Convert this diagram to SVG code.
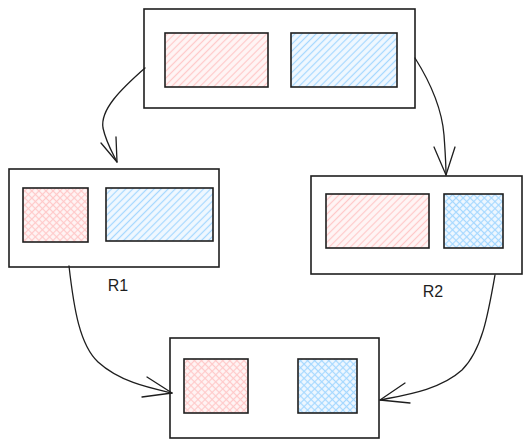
<svg xmlns="http://www.w3.org/2000/svg" width="532" height="448" viewBox="0 0 532 448">
<style>
.frame{fill:none;stroke:#1e1e1e;stroke-width:1.6}
.inner{stroke:#1e1e1e;stroke-width:1.6}
.conn{fill:none;stroke:#1e1e1e;stroke-width:1.3;stroke-linecap:round;stroke-linejoin:round}
.lbl{font-family:"Liberation Sans",Arial,sans-serif;font-size:16px;fill:#1e1e1e;text-anchor:middle}
</style>
<defs>
<pattern id="hPink" patternUnits="userSpaceOnUse" width="5" height="5" patternTransform="rotate(45)">
<rect width="5" height="5" fill="#fff5f5"/>
<line x1="2.5" y1="0" x2="2.5" y2="5" stroke="#ffc9c9" stroke-width="1.2"/>
</pattern>
<pattern id="hBlue" patternUnits="userSpaceOnUse" width="5" height="5" patternTransform="rotate(45)">
<rect width="5" height="5" fill="#f0f8ff"/>
<line x1="2.5" y1="0" x2="2.5" y2="5" stroke="#a5d8ff" stroke-width="1.2"/>
</pattern>
<pattern id="xPink" patternUnits="userSpaceOnUse" width="5" height="5" patternTransform="rotate(45)">
<rect width="5" height="5" fill="#fff5f5"/>
<line x1="2.5" y1="0" x2="2.5" y2="5" stroke="#ffc9c9" stroke-width="1.2"/>
<line x1="0" y1="2.5" x2="5" y2="2.5" stroke="#ffc9c9" stroke-width="1.2"/>
</pattern>
<pattern id="xBlue" patternUnits="userSpaceOnUse" width="5" height="5" patternTransform="rotate(45)">
<rect width="5" height="5" fill="#f0f8ff"/>
<line x1="2.5" y1="0" x2="2.5" y2="5" stroke="#a5d8ff" stroke-width="1.2"/>
<line x1="0" y1="2.5" x2="5" y2="2.5" stroke="#a5d8ff" stroke-width="1.2"/>
</pattern>
</defs>
<rect width="532" height="448" fill="#ffffff"/>

<g id="connectors">
<path class="conn" d="M145,68 C120,90 100,110 103,128 C106,142 112,152 117,162"/>
<polyline class="conn" points="101,143 117,162 116,137"/>
<path class="conn" d="M415,58 C432,85 442,110 444,135 C445,150 446,162 446,175"/>
<polyline class="conn" points="434,147 446,175 455,147"/>
<path class="conn" d="M69,266 C74,310 80,345 98,362 C120,382 150,388 172,393"/>
<polyline class="conn" points="147,377 172,393 142,397"/>
<path class="conn" d="M495,275 C488,315 482,350 462,370 C440,390 405,395 380,400"/>
<polyline class="conn" points="405,383 380,400 410,403"/>
</g>

<g id="top">
<rect class="frame" x="144" y="9" width="271" height="99"/>
<rect class="inner" x="165" y="33" width="103" height="54" fill="url(#hPink)"/>
<rect class="inner" x="291" y="33" width="106" height="54" fill="url(#hBlue)"/>
</g>

<g id="r1">
<rect class="frame" x="9" y="169" width="210" height="98"/>
<rect class="inner" x="23" y="188" width="65" height="54" fill="url(#xPink)"/>
<rect class="inner" x="106" y="188" width="107" height="53" fill="url(#hBlue)"/>
<text class="lbl" x="118" y="291">R1</text>
</g>

<g id="r2">
<rect class="frame" x="311" y="176" width="211" height="98"/>
<rect class="inner" x="326" y="194" width="103" height="54" fill="url(#hPink)"/>
<rect class="inner" x="444" y="194" width="59" height="54" fill="url(#xBlue)"/>
<text class="lbl" x="433" y="297">R2</text>
</g>

<g id="bottom">
<rect class="frame" x="170" y="338" width="209" height="100"/>
<rect class="inner" x="184" y="359" width="64" height="54" fill="url(#xPink)"/>
<rect class="inner" x="298" y="359" width="59" height="54" fill="url(#xBlue)"/>
</g>
</svg>
